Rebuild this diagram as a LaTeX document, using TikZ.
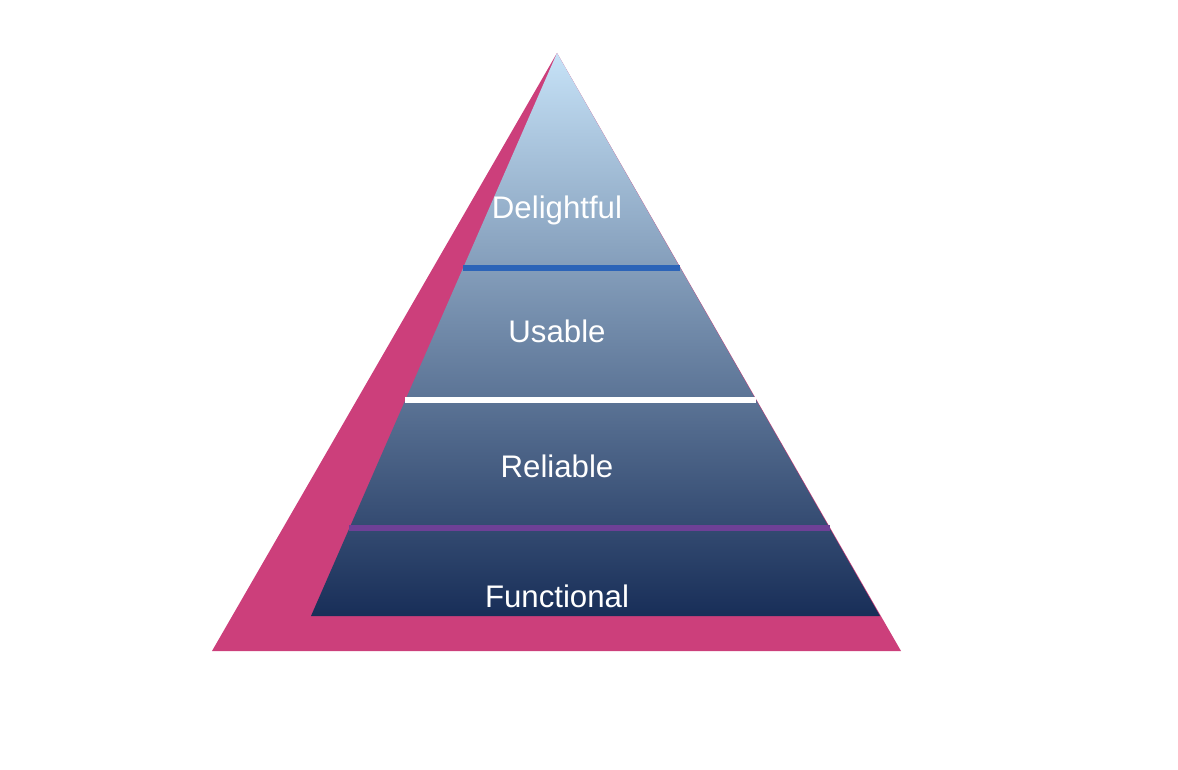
\documentclass[tikz,border=0pt]{standalone}
\usepackage{fontspec}
\setmainfont{Liberation Sans}
\usetikzlibrary{positioning, calc}
\definecolor{PyramidPink}{RGB}{204, 63, 123}
\definecolor{TopSky}{RGB}{198, 226, 247}
\definecolor{BaseNavy}{RGB}{24, 46, 88}
\definecolor{LevelBlue}{RGB}{44, 100, 184}
\definecolor{LevelPurple}{RGB}{110, 64, 150}

\begin{document}
\begin{tikzpicture}[x=0.5pt, y=-0.5pt,
    level/.style={text=white, font=\fontsize{15.6}{18}\selectfont},
    divider/.style={line width=2.6pt}]
    \useasboundingbox (0,0) rectangle (1178,770);

    % Pink backing triangle
    \fill[PyramidPink] (557,53) -- (901,651) -- (212,651) -- cycle;

    % Shaded pyramid
    \coordinate (apex) at (557,53);
    \coordinate (baseleft) at (311,616);
    \coordinate (baseright) at (880,616);
    \shade[top color=TopSky, bottom color=BaseNavy] (apex) -- (baseright) -- (baseleft) -- cycle;

    % Level dividers
    \draw[divider, LevelBlue] ($(apex)!0.3819!(baseleft)$) -- ($(apex)!0.3819!(baseright)$);
    \draw[divider, white] ($(apex)!0.6163!(baseleft)$) -- ($(apex)!0.6163!(baseright)$);
    \draw[divider, LevelPurple] ($(apex)!0.8437!(baseleft)$) -- ($(apex)!0.8437!(baseright)$);

    % Level labels
    \node[level] (delightful) at (557,210) {Delightful};
    \node[level] (usable) at (557,331) {Usable};
    \node[level] (reliable) at (557,466) {Reliable};
    \node[level] (functional) at (557,596) {Functional};
\end{tikzpicture}
\end{document}
